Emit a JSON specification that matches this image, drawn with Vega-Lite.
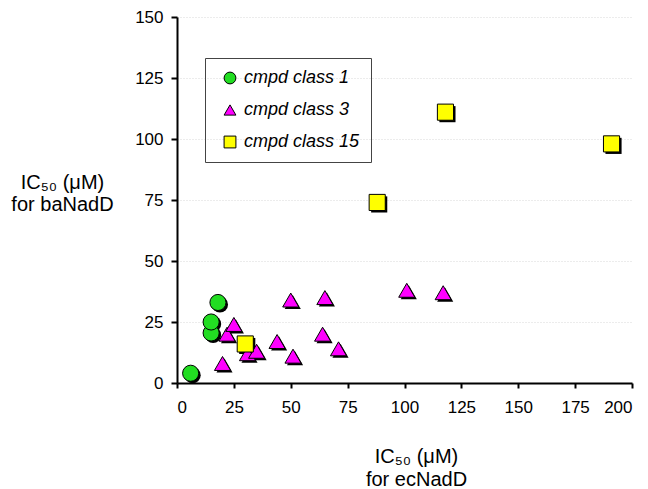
{
  "$schema": "https://vega.github.io/schema/vega-lite/v6.json",
  "width": 455,
  "height": 366,
  "autosize": {"type": "none"},
  "padding": {"left": 177, "top": 17, "right": 16, "bottom": 106},
  "background": "white",
  "config": {
    "font": "Liberation Sans",
    "view": {"stroke": null},
    "legend": {
      "title": null,
      "orient": "none",
      "legendX": 28,
      "legendY": 41,
      "strokeColor": "#444",
      "padding": 11,
      "symbolOffset": 5,
      "labelFontSize": 18,
      "labelFontStyle": "italic",
      "labelColor": "black",
      "symbolSize": 140,
      "symbolStrokeWidth": 1,
      "rowPadding": 14,
      "labelOffset": 5
    }
  },
  "data": {
    "values": [
      {"class": "cmpd class 1", "ec": 6, "ba": 4},
      {"class": "cmpd class 1", "ec": 15, "ba": 20.5},
      {"class": "cmpd class 1", "ec": 15, "ba": 25},
      {"class": "cmpd class 1", "ec": 18, "ba": 33},
      {"class": "cmpd class 3", "ec": 20, "ba": 8},
      {"class": "cmpd class 3", "ec": 22, "ba": 20},
      {"class": "cmpd class 3", "ec": 25, "ba": 24},
      {"class": "cmpd class 3", "ec": 31, "ba": 12},
      {"class": "cmpd class 3", "ec": 35, "ba": 13},
      {"class": "cmpd class 3", "ec": 44, "ba": 17},
      {"class": "cmpd class 3", "ec": 50, "ba": 34},
      {"class": "cmpd class 3", "ec": 51, "ba": 11},
      {"class": "cmpd class 3", "ec": 64, "ba": 20},
      {"class": "cmpd class 3", "ec": 65, "ba": 35},
      {"class": "cmpd class 3", "ec": 71, "ba": 14},
      {"class": "cmpd class 3", "ec": 101, "ba": 38},
      {"class": "cmpd class 3", "ec": 117, "ba": 37},
      {"class": "cmpd class 15", "ec": 30, "ba": 16},
      {"class": "cmpd class 15", "ec": 88, "ba": 74},
      {"class": "cmpd class 15", "ec": 118, "ba": 111},
      {"class": "cmpd class 15", "ec": 191, "ba": 98}
    ]
  },
  "encoding": {
    "x": {
      "field": "ec",
      "type": "quantitative",
      "scale": {"domain": [0, 200], "nice": false, "zero": false},
      "axis": {
        "values": [0, 25, 50, 75, 100, 125, 150, 175, 200],
        "grid": false,
        "domainColor": "black",
        "domainWidth": 2,
        "tickColor": "black",
        "tickWidth": 2,
        "tickSize": 5,
        "labelFontSize": 17,
        "labelColor": "black",
        "labelPadding": 11,
        "title": ["IC₅₀ (μM)", "for ecNadD"],
        "titleFontSize": 20,
        "titleFontWeight": "normal",
        "titleColor": "black",
        "titleX": 239,
        "titleY": 79,
        "titleLineHeight": 23,
        "titleBaseline": "alphabetic"
      }
    },
    "y": {
      "field": "ba",
      "type": "quantitative",
      "scale": {"domain": [0, 150], "nice": false, "zero": false},
      "axis": {
        "values": [0, 25, 50, 75, 100, 125, 150],
        "grid": true,
        "gridColor": "#d8d8d8",
        "gridDash": [1, 2],
        "gridWidth": 1,
        "domainColor": "black",
        "domainWidth": 2,
        "tickColor": "black",
        "tickWidth": 2,
        "tickSize": 6,
        "labelFontSize": 17,
        "labelColor": "black",
        "labelPadding": 8,
        "title": ["IC₅₀ (μM)", "for baNadD"],
        "titleFontSize": 20,
        "titleFontWeight": "normal",
        "titleColor": "black",
        "titleAngle": 0,
        "titleAlign": "center",
        "titleBaseline": "alphabetic",
        "titleX": -115,
        "titleY": 171,
        "titleLineHeight": 22
      }
    }
  },
  "resolve": {"legend": {"shape": "independent", "fill": "independent"}},
  "layer": [
    {
      "mark": {"type": "point", "filled": true, "xOffset": 2, "yOffset": 2, "opacity": 1, "color": "black", "size": 260},
      "encoding": {
        "shape": {
          "field": "class",
          "type": "nominal",
          "scale": {"domain": ["cmpd class 1", "cmpd class 3", "cmpd class 15"], "range": ["circle", "triangle-up", "square"]},
          "legend": null
        }
      }
    },
    {
      "mark": {"type": "point", "filled": true, "opacity": 1, "stroke": "black", "strokeWidth": 1, "size": 260},
      "encoding": {
        "shape": {
          "field": "class",
          "type": "nominal",
          "scale": {"domain": ["cmpd class 1", "cmpd class 3", "cmpd class 15"], "range": ["circle", "triangle-up", "square"]},
          "legend": {"encode": {"symbols": {"stroke": {"value": "black"}, "strokeWidth": {"value": 1}}}}
        },
        "fill": {
          "field": "class",
          "type": "nominal",
          "scale": {"domain": ["cmpd class 1", "cmpd class 3", "cmpd class 15"], "range": ["#22dd22", "#ff00ff", "#ffff00"]},
          "legend": {"encode": {"symbols": {"stroke": {"value": "black"}, "strokeWidth": {"value": 1}}}}
        }
      }
    }
  ]
}
